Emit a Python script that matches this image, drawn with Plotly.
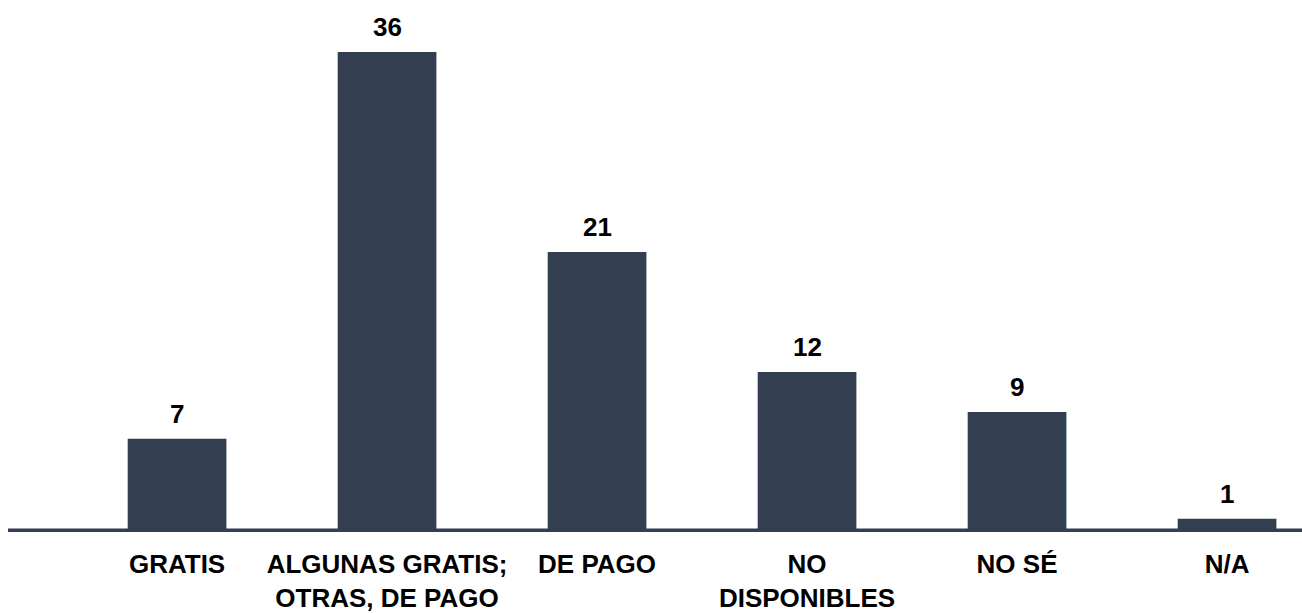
import plotly.graph_objects as go

categories = ["GRATIS", "ALGUNAS GRATIS;<br>OTRAS, DE PAGO", "DE PAGO",
              "NO<br>DISPONIBLES", "NO SÉ", "N/A"]
values = [7, 36, 21, 12, 9, 1]

bar_color = "#333f50"
font_family = "Arial, 'Liberation Sans', sans-serif"

fig = go.Figure()
fig.add_trace(go.Bar(x=categories, y=values, marker_color=bar_color,
                     marker_line_width=0, width=0.47, hoverinfo="x+y"))

# value labels above each bar
for cat, val in zip(categories, values):
    fig.add_annotation(x=cat, y=val, text=str(val), showarrow=False,
                       yanchor="bottom", yshift=8,
                       font=dict(family=font_family, size=26, color="black", weight="bold"))

# thick baseline across the full width
fig.add_shape(type="line", xref="paper", yref="y", x0=0, x1=1, y0=0, y1=0,
              line=dict(color=bar_color, width=7), layer="above")

fig.update_layout(
    width=1302, height=613,
    margin=dict(l=8, r=0, t=0, b=81, autoexpand=False),
    plot_bgcolor="white", paper_bgcolor="white",
    showlegend=False,
    font=dict(family=font_family, color="black"),
    xaxis=dict(type="category", range=[-0.805, 5.357], showgrid=False,
               showline=False, zeroline=False, ticks="", automargin=False,
               tickfont=dict(size=26, weight="bold", color="black"),
               ticklabelstandoff=14),
    yaxis=dict(range=[0, 39.9], visible=False, showgrid=False, zeroline=False,
               automargin=False),
)

# drop the browser's default body margin so the figure sits at the page corner
fig.write_html("out.html", config={"displayModeBar": False},
               post_script="document.body.style.margin='0';")
